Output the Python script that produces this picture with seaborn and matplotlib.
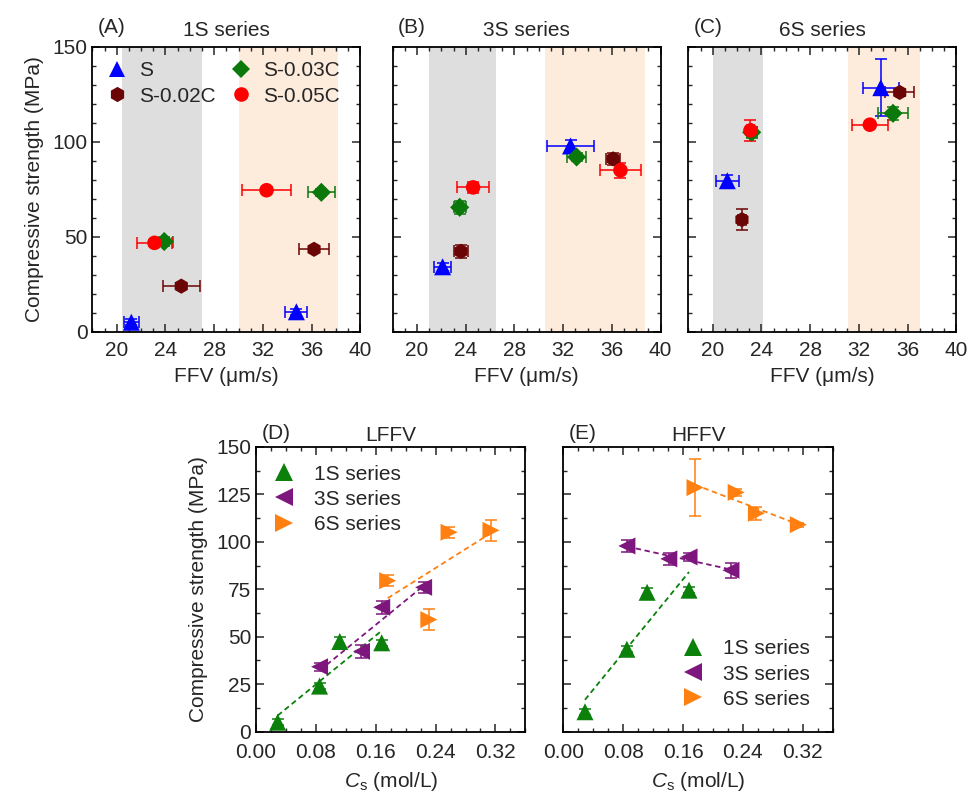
import numpy as np
import pandas as pd
import matplotlib
matplotlib.use('Agg')
import matplotlib.pyplot as plt
import seaborn as sns
from matplotlib.ticker import MultipleLocator

# ---- data ----
samples = ['S', 'S-0.02C', 'S-0.03C', 'S-0.05C']
series = ['1S series', '3S series', '6S series']
panel_tags = ['(A)', '(B)', '(C)']

# rows: 1S, 3S, 6S ; columns: S, S-0.02C, S-0.03C, S-0.05C
ffv_low = [[21.2, 25.3, 23.9, 23.1],
           [22.1, 23.6, 23.5, 24.6],
           [21.2, 22.4, 23.2, 23.1]]
ffv_low_err = [[0.6, 1.5, 0.7, 1.45],
               [0.7, 0.6, 0.5, 1.3],
               [0.95, 0.3, 0.4, 0.3]]
ffv_high = [[34.75, 36.2, 36.8, 32.3],
            [32.6, 36.1, 33.1, 36.7],
            [33.8, 35.35, 34.8, 32.9]]
ffv_high_err = [[0.9, 1.2, 1.1, 2.0],
                [1.9, 0.6, 0.8, 1.7],
                [1.5, 1.2, 1.25, 1.5]]
strength_low = [[5.0, 24.0, 47.5, 46.8],
                [34.2, 42.3, 65.5, 76.0],
                [79.5, 59.0, 105.0, 106.0]]
strength_low_err = [[1.5, 1.5, 2.5, 1.5],
                    [2.0, 3.5, 3.5, 3.0],
                    [3.0, 5.5, 3.0, 5.5]]
strength_high = [[10.5, 43.4, 73.4, 74.5],
                 [97.8, 91.0, 92.0, 85.0],
                 [128.5, 126.0, 115.0, 109.0]]
strength_high_err = [[1.5, 1.5, 2.0, 1.5],
                     [3.0, 3.0, 2.0, 4.0],
                     [15.0, 2.0, 3.5, 1.0]]
cs = [[0.029, 0.085, 0.112, 0.168],
      [0.085, 0.141, 0.168, 0.224],
      [0.176, 0.231, 0.258, 0.314]]

# shaded FFV ranges (low / high) per series
band_low = [(20.4, 27.0), (21.0, 26.5), (20.0, 24.1)]
band_high = [(30.0, 38.2), (30.5, 38.7), (31.1, 37.0)]

# ---- long table ----
rows = []
for i, ser in enumerate(series):
    for j, smp in enumerate(samples):
        rows.append(dict(series=ser, sample=smp, level='LFFV', cs=cs[i][j],
                         ffv=ffv_low[i][j], ffv_err=ffv_low_err[i][j],
                         strength=strength_low[i][j], strength_err=strength_low_err[i][j]))
        rows.append(dict(series=ser, sample=smp, level='HFFV', cs=cs[i][j],
                         ffv=ffv_high[i][j], ffv_err=ffv_high_err[i][j],
                         strength=strength_high[i][j], strength_err=strength_high_err[i][j]))
df = pd.DataFrame(rows)

# ---- style ----
sns.set_theme(style='ticks')
plt.rcParams['font.family'] = ['Liberation Sans', 'DejaVu Sans']
plt.rcParams.update({
    'font.size': 15,
    'axes.labelsize': 15,
    'axes.titlesize': 15,
    'xtick.labelsize': 15,
    'ytick.labelsize': 15,
    'legend.fontsize': 15,
    'axes.linewidth': 1.3,
    'axes.edgecolor': 'black',
    'xtick.direction': 'in',
    'ytick.direction': 'in',
    'xtick.top': True,
    'ytick.right': True,
    'xtick.major.size': 5.5,
    'ytick.major.size': 5.5,
    'xtick.minor.size': 3,
    'ytick.minor.size': 3,
    'xtick.major.width': 1.1,
    'ytick.major.width': 1.1,
    'xtick.minor.width': 1.0,
    'ytick.minor.width': 1.0,
    'xtick.minor.visible': True,
    'ytick.minor.visible': True,
    'mathtext.fontset': 'custom',
    'mathtext.rm': 'Liberation Sans',
    'mathtext.it': 'Liberation Sans:italic',
})

sample_colors = dict(zip(samples, ['#0000ff', '#6b0505', '#0b780b', '#ff0000']))
sample_markers = dict(zip(samples, ['^', 'h', 'D', 'o']))
sample_sizes = dict(zip(samples, [150, 120, 95, 110]))
legend_msize = dict(zip(samples, [12, 11, 9.5, 10.5]))
series_colors = dict(zip(series, ['#0b800b', '#7d167d', '#ff7f10']))
series_markers = dict(zip(series, ['^', '<', '>']))

fig = plt.figure(figsize=(9.71, 7.98), dpi=100)

# ---- panels A-C: strength vs FFV ----
top_left = [0.0951, 0.4044, 0.7089]
for i, ser in enumerate(series):
    ax = fig.add_axes([top_left[i], 0.5843, 0.276, 0.357])
    ax.axvspan(*band_low[i], color='#dedede', lw=0, zorder=0)
    ax.axvspan(*band_high[i], color='#fdebdc', lw=0, zorder=0)
    sub = df[df['series'] == ser]
    for smp in samples:
        d = sub[sub['sample'] == smp]
        ax.errorbar(d['ffv'], d['strength'], xerr=d['ffv_err'], yerr=d['strength_err'],
                    fmt='none', ecolor=sample_colors[smp], elinewidth=1.1, capsize=4,
                    capthick=1.1, zorder=2)
    sns.scatterplot(data=sub, x='ffv', y='strength', hue='sample', style='sample',
                    size='sample', sizes=sample_sizes,
                    hue_order=samples, style_order=samples, size_order=samples,
                    palette=sample_colors, markers=sample_markers, linewidth=0, zorder=3,
                    legend=(i == 0), ax=ax)
    ax.set_xlim(18, 40)
    ax.set_ylim(0, 150)
    ax.xaxis.set_minor_locator(MultipleLocator(1))
    ax.yaxis.set_major_locator(MultipleLocator(50))
    ax.yaxis.set_minor_locator(MultipleLocator(10))
    ax.set_xticks([20, 24, 28, 32, 36, 40])
    ax.tick_params(axis='x', pad=7)
    ax.set_xlabel('FFV (\u03bcm/s)', labelpad=5)
    if i == 0:
        ax.set_ylabel('Compressive strength (MPa)', labelpad=6)
        handles, labels = ax.get_legend_handles_labels()
        for h, lab in zip(handles, labels):
            h.set_markersize(legend_msize[lab])
        ax.legend(handles, labels, ncol=2, loc='upper left', frameon=False,
                  handlelength=1.0, handletextpad=0.55, columnspacing=0.7,
                  labelspacing=0.3, borderaxespad=0.3)
    else:
        ax.set_ylabel('')
        ax.tick_params(axis='y', labelleft=False)
    ax.set_title(ser, pad=8)
    ax.text(0.02, 1.035, panel_tags[i], transform=ax.transAxes, ha='left', va='bottom')

# ---- panels D-E: strength vs Cs ----
bottom_left = [0.2636, 0.5801]
for k, (level, tag) in enumerate([('LFFV', '(D)'), ('HFFV', '(E)')]):
    ax = fig.add_axes([bottom_left[k], 0.0831, 0.2775, 0.357])
    sub = df[df['level'] == level]
    for ser in series:
        d = sub[sub['series'] == ser]
        sns.regplot(data=d, x='cs', y='strength', scatter=False, ci=None, truncate=True,
                    color=series_colors[ser],
                    line_kws=dict(lw=1.3, dashes=(3, 2)), ax=ax)
        ax.errorbar(d['cs'], d['strength'], yerr=d['strength_err'], fmt='none',
                    ecolor=series_colors[ser], elinewidth=1.1, capsize=4, capthick=1.1,
                    zorder=2)
    sns.scatterplot(data=sub, x='cs', y='strength', hue='series', style='series',
                    hue_order=series, style_order=series, palette=series_colors,
                    markers=series_markers, s=150, linewidth=0, zorder=3, ax=ax)
    ax.set_xlim(0, 0.36)
    ax.set_ylim(0, 150)
    ax.set_xticks([0.0, 0.08, 0.16, 0.24, 0.32])
    ax.xaxis.set_major_formatter(plt.FormatStrFormatter('%.2f'))
    ax.xaxis.set_minor_locator(MultipleLocator(0.02))
    ax.yaxis.set_major_locator(MultipleLocator(25))
    ax.yaxis.set_minor_locator(MultipleLocator(12.5))
    ax.tick_params(axis='x', pad=8)
    ax.set_xlabel(r'$C_\mathrm{s}$ (mol/L)', labelpad=6)
    if k == 0:
        ax.set_ylabel('Compressive strength (MPa)', labelpad=6)
        ax.legend(loc='upper left', frameon=False, handlelength=1.0, handletextpad=0.95,
                  labelspacing=0.3, borderaxespad=0.45)
    else:
        ax.set_ylabel('')
        ax.tick_params(axis='y', labelleft=False)
        ax.legend(loc='lower right', frameon=False, handlelength=1.0, handletextpad=0.95,
                  labelspacing=0.3, borderaxespad=0.7)
    ax.set_title(level, pad=4)
    ax.text(0.02, 1.015, tag, transform=ax.transAxes, ha='left', va='bottom')

fig.savefig('out.png', dpi=100)
